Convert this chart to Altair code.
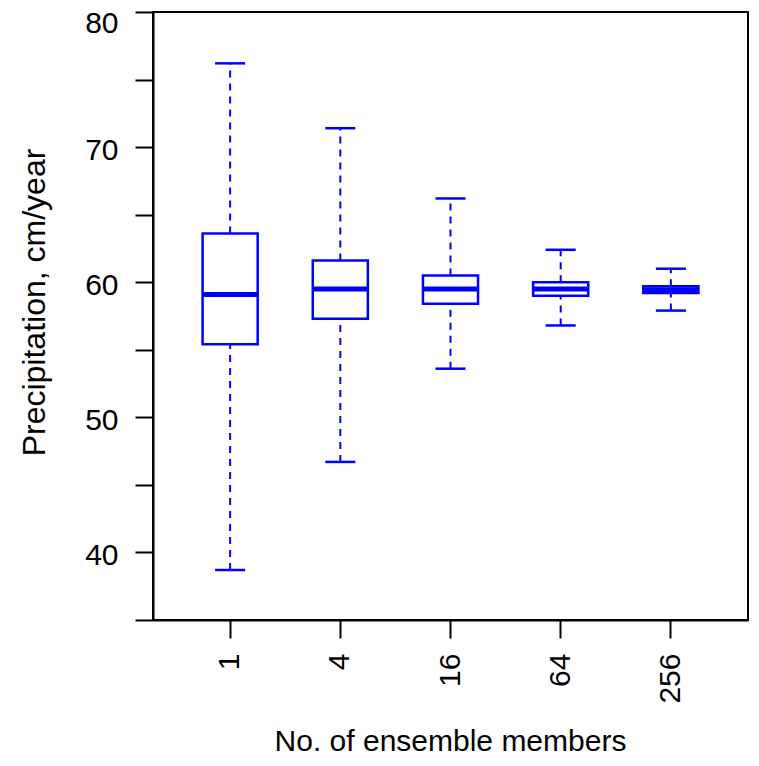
import altair as alt
import pandas as pd

members = ["1", "4", "16", "64", "256"]
lower = [38.7, 46.7, 53.6, 56.8, 57.9]
q1 = [55.4, 57.3, 58.4, 59.0, 59.2]
median = [59.1, 59.5, 59.5, 59.5, 59.45]
q3 = [63.6, 61.6, 60.5, 60.0, 59.7]
upper = [76.2, 71.4, 66.2, 62.4, 61.0]
y_ticks = [35, 40, 45, 50, 55, 60, 65, 70, 75, 80]

df = pd.DataFrame({"members": members, "lower": lower, "q1": q1,
                   "median": median, "q3": q3, "upper": upper})

BLUE = "#0000FF"
FONT = "Liberation Sans"

x = alt.X("members:N", sort=members,
          scale=alt.Scale(paddingInner=0.5, paddingOuter=0.45),
          axis=alt.Axis(title="No. of ensemble members", labelAngle=270,
                        labelFontSize=30, labelPadding=15, tickSize=18,
                        tickWidth=2, tickColor="black", domainColor="black",
                        domainWidth=2, labelColor="black", titleFontSize=30,
                        titleFontWeight="normal", titleColor="black",
                        titleX=297, titleY=130, titleAlign="center",
                        titleBaseline="alphabetic", labelFont=FONT, titleFont=FONT))

yscale = alt.Scale(domain=[35, 80], nice=False, zero=False)
yaxis = alt.Axis(title="Precipitation, cm/year",
                 values=y_ticks,
                 labelExpr="datum.value % 10 == 0 ? datum.label : ''",
                 labelFontSize=30, labelPadding=17, tickSize=18, tickWidth=2,
                 tickColor="black", domainColor="black", domainWidth=2,
                 labelColor="black", grid=False, titleFontSize=32,
                 titleFontWeight="normal", titleColor="black", titleAngle=270,
                 titleX=-109, titleY=290, titleAlign="center",
                 titleBaseline="alphabetic", labelFont=FONT, titleFont=FONT,
                 labelBaseline="middle", labelFlush=False, labelOverlap=False,
                 labelOffset={"condition": {"test": "datum.value >= 80", "value": 11.5},
                              "value": 3})

base = alt.Chart(df)

whisk_lo = base.mark_rule(color=BLUE, strokeWidth=2, strokeDash=[7, 6], opacity=1).encode(
    x=x, y=alt.Y("lower:Q", scale=yscale, axis=yaxis), y2="q1:Q")
whisk_hi = base.mark_rule(color=BLUE, strokeWidth=2, strokeDash=[7, 6], opacity=1).encode(
    x=x, y=alt.Y("q3:Q", scale=yscale, axis=yaxis), y2="upper:Q")
cap_lo = base.mark_tick(color=BLUE, size=30, thickness=2.5, opacity=1).encode(
    x=x, y=alt.Y("lower:Q", scale=yscale, axis=yaxis))
cap_hi = base.mark_tick(color=BLUE, size=30, thickness=2.5, opacity=1).encode(
    x=x, y=alt.Y("upper:Q", scale=yscale, axis=yaxis))
box = base.mark_bar(fill="white", stroke=BLUE, strokeWidth=2.5, opacity=1).encode(
    x=x, y=alt.Y("q1:Q", scale=yscale, axis=yaxis), y2="q3:Q")
med = base.mark_tick(color=BLUE, size=56, thickness=5, opacity=1).encode(
    x=x, y=alt.Y("median:Q", scale=yscale, axis=yaxis))

chart = alt.layer(whisk_lo, whisk_hi, box, cap_lo, cap_hi, med).properties(
    width=595, height=608,
    autosize=alt.AutoSizeParams(type="none"),
    padding={"left": 145, "top": 4, "right": 3, "bottom": 138},
    background="white",
).configure_view(stroke="black", strokeWidth=2).configure_axis(grid=False)

chart.save("out.html", embed_options={"renderer": "svg", "actions": False})
